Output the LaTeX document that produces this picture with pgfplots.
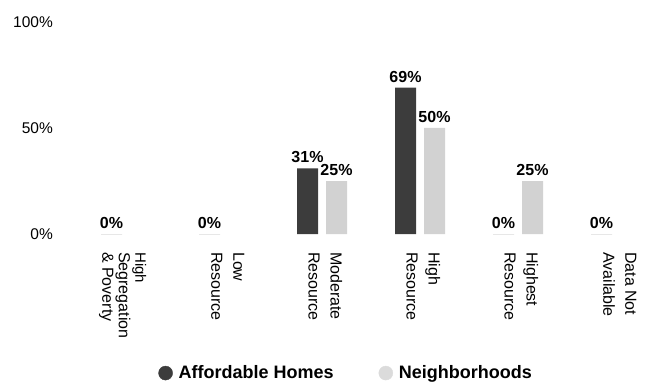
\documentclass[border=0pt]{standalone}
\usepackage{pgfplots}
\pgfplotsset{compat=1.18}
\usepackage{fontspec}
\setmainfont{Liberation Sans}
\definecolor{darkbar}{HTML}{3C3C3C}
\definecolor{lightbar}{HTML}{D2D2D2}
\begin{document}
\begin{tikzpicture}
\useasboundingbox (0,0) rectangle (652pt,388pt);
\begin{axis}[
  at={(57.4pt,154pt)}, anchor=south west,
  scale only axis, width=588pt, height=212pt,
  xmin=-0.7, xmax=5.3, ymin=0, ymax=100,
  clip=false,
  axis line style={draw=none}, major tick length=0pt,
  /pgf/number format/assume math mode=true,
  ytick={0,50,100}, yticklabels={0\%,50\%,100\%},
  yticklabel style={anchor=east, inner sep=0pt, xshift=-4.4pt, font=\fontsize{15.5}{15.5}\selectfont},
  xtick={0,1,2,3,4,5},
  xticklabels={{\fontsize{15}{22}\selectfont High\\[-5.5pt]Segregation\\[-5.5pt]\& Poverty},{Low\\Resource},{Moderate\\Resource},{High\\Resource},{Highest\\Resource},{Data Not\\Available}},
  xticklabel style={xshift=20.5pt, yshift=-18pt, rotate=-90, anchor=north west, inner sep=0pt, align=left, font=\fontsize{16}{22}\selectfont},
  ybar, bar width=21pt,
  nodes near coords={\pgfmathprintnumber{\pgfplotspointmeta}\%},
  nodes near coords style={font=\bfseries\fontsize{16}{16}\selectfont, inner sep=0pt, anchor=south, yshift=5pt},
  legend style={draw=none, fill=none, at={(0.491,-0.656)}, anchor=center, legend columns=2,
    font=\bfseries\fontsize{18}{18}\selectfont,
    /tikz/every even column/.append style={column sep=43pt}},
]
\addplot[fill=darkbar, draw=none, bar shift=-14.5pt, forget plot] coordinates {(0,0) (1,0) (2,31) (3,69) (4,0) (5,0)};
\addplot[fill=lightbar, draw=none, bar shift=14.5pt, forget plot] coordinates {(2,25) (3,50) (4,25)};
\addlegendimage{legend image code/.code={\fill[darkbar] (0pt,0pt) circle (7pt); \path[draw=none,fill=none] (7pt,-1pt) rectangle (11pt,1pt);}}
\addlegendentry{Affordable Homes}
\addlegendimage{legend image code/.code={\fill[lightbar!80] (0pt,0pt) circle (7pt); \path[draw=none,fill=none] (7pt,-1pt) rectangle (11pt,1pt);}}
\addlegendentry{Neighborhoods}
\end{axis}
\end{tikzpicture}
\end{document}
